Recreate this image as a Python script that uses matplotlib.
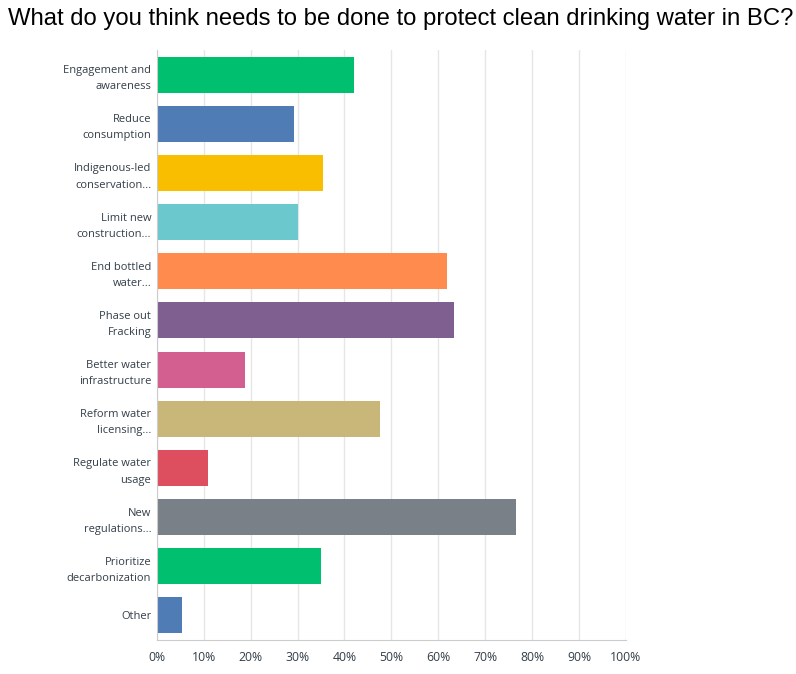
import matplotlib.pyplot as plt

# survey answers, top to bottom
answers = ['Engagement and\nawareness', 'Reduce\nconsumption', 'Indigenous-led\nconservation...',
           'Limit new\nconstruction...', 'End bottled\nwater...', 'Phase out\nFracking',
           'Better water\ninfrastructure', 'Reform water\nlicensing...', 'Regulate water\nusage',
           'New\nregulations...', 'Prioritize\ndecarbonization', 'Other']
percent = [42.1, 29.3, 35.5, 30.1, 61.9, 63.4, 18.8, 47.6, 10.9, 76.6, 35.0, 5.4]
colors = ['#00bf6f', '#507cb6', '#f9be00', '#6bc8cd', '#ff8b4f', '#7f5f90',
          '#d25f90', '#c9b77a', '#dd4f5f', '#7a8088', '#00bf6f', '#507cb6']
ticks = [0, 10, 20, 30, 40, 50, 60, 70, 80, 90, 100]

fig = plt.figure(figsize=(7.96, 6.74), dpi=100)
ax = fig.add_axes([0.1969, 0.0504, 0.5895, 0.8754])

pos = list(range(len(answers)))
ax.barh(pos, percent, height=0.73, color=colors, zorder=2)
ax.set_ylim(len(answers) - 0.5, -0.5)
ax.set_xlim(0, 100)
ax.set_xticks(ticks)
ax.set_xticklabels([f'{t}%' for t in ticks], fontsize=8.8, color='#333e48', family='Open Sans')
ax.set_yticks(pos)
ax.set_yticklabels(answers, fontsize=8, color='#333e48', family='Open Sans', linespacing=1.65)
ax.tick_params(length=0, pad=4)
ax.tick_params(axis='x', pad=8)
ax.grid(axis='x', color='#e6e6e6', linewidth=1, zorder=0)
for s in ['top', 'right']:
    ax.spines[s].set_visible(False)
for s in ['left', 'bottom']:
    ax.spines[s].set_color('#cccccc')

fig.text(0.01, 0.972, 'What do you think needs to be done to protect clean drinking water in BC?',
         fontsize=17.2, family='Liberation Sans', va='center', ha='left', color='black')

fig.savefig('out.png')
plt.close(fig)
